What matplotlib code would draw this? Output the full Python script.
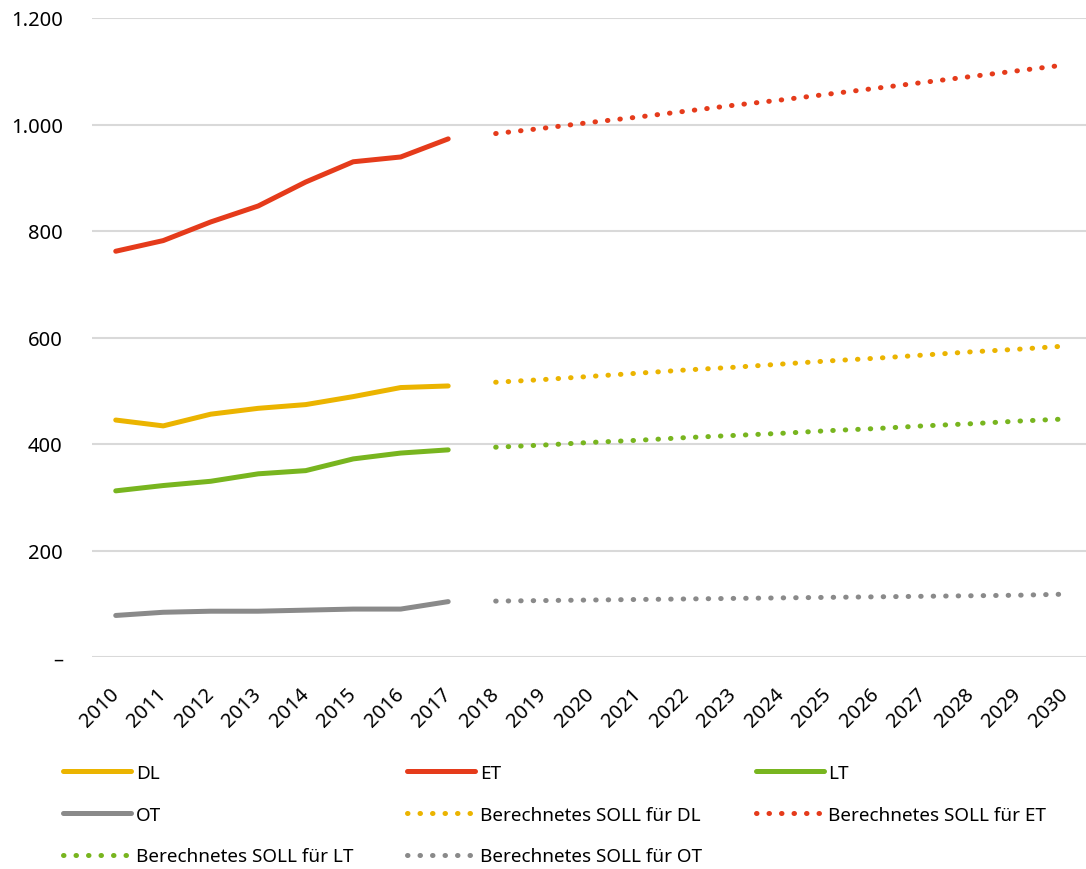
import matplotlib.pyplot as plt
from matplotlib.transforms import ScaledTranslation

plt.rcParams['font.family'] = ['Noto Sans', 'DejaVu Sans']

# Jahre
years = list(range(2010, 2031))
hist_years = list(range(2010, 2018))
soll_years = list(range(2018, 2031))

# Ist-Werte 2010-2017
dl = [445, 434, 456, 467, 474, 489, 506, 509]
et = [762, 782, 817, 847, 892, 930, 939, 973]
lt = [312, 322, 330, 344, 350, 372, 383, 389]
ot = [78, 84, 86, 86, 88, 90, 90, 104]

# Berechnetes SOLL 2018-2030
soll_dl = [516, 521, 527, 533, 539, 544, 550, 556, 561, 567, 573, 578, 584]
soll_et = [983, 993, 1004, 1014, 1025, 1036, 1046, 1057, 1068, 1079, 1090, 1101, 1112]
soll_lt = [394, 398, 403, 407, 412, 416, 420, 425, 429, 434, 438, 443, 447]
soll_ot = [105, 106, 107, 108, 109, 110, 111, 112, 113, 114, 115, 116, 118]

yticks = [0, 200, 400, 600, 800, 1000, 1200]
ytick_labels = ['–', '200', '400', '600', '800', '1.000', '1.200']

colors = {'DL': '#EBB400', 'ET': '#E53B1B', 'LT': '#78B51F', 'OT': '#8A8A8A'}

fig = plt.figure(figsize=(10.86, 8.70), dpi=100)
ax = fig.add_axes([92 / 1086, (870 - 658) / 870, (1086 - 92) / 1086, (658 - 19) / 870])

def pos(yrs):
    return [y - 2010 for y in yrs]

lw = 3.6
dotted = (0, (0.1, 2.4))
solid = {}
dots = {}
for name, ist, soll in [('DL', dl, soll_dl), ('ET', et, soll_et),
                        ('LT', lt, soll_lt), ('OT', ot, soll_ot)]:
    solid[name], = ax.plot(pos(hist_years), ist, color=colors[name], lw=lw,
                           solid_capstyle='round', solid_joinstyle='round',
                           label=name)
    dots[name], = ax.plot(pos(soll_years), soll, color=colors[name], lw=lw,
                          linestyle=dotted, dash_capstyle='round',
                          label='Berechnetes SOLL für ' + name)

ax.set_xlim(-0.5, 20.43)
ax.set_ylim(0, 1200)
ax.set_xticks(range(len(years)))
ax.set_xticklabels([str(y) for y in years], rotation=45, ha='right',
                   rotation_mode='anchor', fontsize=14.5)
ax.set_yticks(yticks)
ax.set_yticklabels(ytick_labels, fontsize=14.5)
ax.tick_params(length=0)
ax.tick_params(axis='y', pad=21)
ax.tick_params(axis='x', pad=19)
# x-Beschriftungen etwas nach links schieben
shift = ScaledTranslation(-7 / 100, 0, fig.dpi_scale_trans)
for lbl in ax.get_xticklabels():
    lbl.set_transform(lbl.get_transform() + shift)
ax.grid(axis='y', color='#d9d9d9', lw=1.5)
ax.set_axisbelow(True)
for s in ax.spines.values():
    s.set_visible(False)

# Legende: zeilenweise DL, ET, LT / OT, SOLL DL, SOLL ET / SOLL LT, SOLL OT
order = [solid['DL'], solid['OT'], dots['LT'],
         solid['ET'], dots['DL'], dots['OT'],
         solid['LT'], dots['ET']]
fig.legend(handles=order, labels=[h.get_label() for h in order],
           loc='upper left', bbox_to_anchor=(46 / 1086, 1 - 748 / 870),
           ncol=3, frameon=False, fontsize=13.6, handlelength=3.6,
           handletextpad=0.25, columnspacing=2.85, labelspacing=1.25)

fig.savefig('out.png', dpi=100)
